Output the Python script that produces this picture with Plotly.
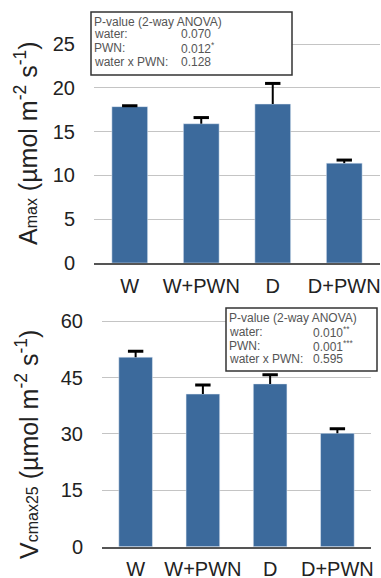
import plotly.graph_objects as go

W, H = 381, 578

categories = ["W", "W+PWN", "D", "D+PWN"]
amax_values = [17.85, 15.9, 18.15, 11.4]
amax_errors = [0.1, 0.7, 2.35, 0.35]
vcmax_values = [50.4, 40.6, 43.3, 30.15]
vcmax_errors = [1.6, 2.4, 2.4, 1.2]
amax_ticks = [0, 5, 10, 15, 20, 25]
vcmax_ticks = [0, 15, 30, 45, 60]

amax_stats_labels = ["water:", "PWN:", "water x PWN:"]
amax_stats_values = ["0.070", "0.012<sup>*</sup>", "0.128"]
vcmax_stats_labels = ["water:", "PWN:", "water x PWN:"]
vcmax_stats_values = ["0.010<sup>**</sup>", "0.001<sup>***</sup>", "0.595"]

BAR = "#3c6a9c"
FONT = "Liberation Sans, Arial, sans-serif"


def px(x):
    return x / W


def py(y):
    return 1 - y / H


fig = go.Figure()


def add_bars(vals, errs, xa, ya):
    fig.add_trace(go.Bar(
        x=categories, y=vals, marker_color=BAR, width=0.5,
        error_y=dict(type="data", symmetric=False, array=errs,
                     arrayminus=[0] * len(errs), color="black",
                     thickness=2, width=0),
        xaxis=xa, yaxis=ya, hoverinfo="skip"))
    tops = [v + e for v, e in zip(vals, errs)]
    fig.add_trace(go.Scatter(
        x=categories, y=tops, mode="markers",
        marker=dict(symbol="line-ew", size=11,
                    line=dict(color="black", width=3)),
        xaxis=xa, yaxis=ya, hoverinfo="skip"))


add_bars(amax_values, amax_errors, "x", "y")
add_bars(vcmax_values, vcmax_errors, "x2", "y2")

t_zero, t_ppu, t_max = 263.0, 8.76, 27.5
b_zero, b_ppu, b_max = 546.7, 3.76, 63.0

axis_common = dict(showgrid=False, zeroline=False, showline=True,
                   linecolor="#555", linewidth=1.5, ticks="",
                   tickfont=dict(size=20, color="#222", family=FONT),
                   ticklabelstandoff=4, fixedrange=True, automargin=False)
yaxis_common = dict(showgrid=True, gridcolor="#c4c4c4", gridwidth=1.2,
                    zeroline=False, showline=False, ticks="",
                    tickfont=dict(size=20, color="#222", family=FONT),
                    ticklabelstandoff=18, fixedrange=True, automargin=False)

fig.update_layout(
    width=W, height=H, margin=dict(l=0, r=0, t=0, b=0),
    paper_bgcolor="white", plot_bgcolor="white", showlegend=False,
    bargap=0.5,
    xaxis=dict(domain=[px(94), px(380)], anchor="y", **axis_common),
    yaxis=dict(domain=[py(t_zero), py(t_zero - t_max * t_ppu)],
               range=[0, t_max], tickvals=amax_ticks, anchor="x",
               **yaxis_common),
    xaxis2=dict(domain=[px(102), px(371)], anchor="y2", **axis_common),
    yaxis2=dict(domain=[py(b_zero), py(b_zero - b_max * b_ppu)],
                range=[0, b_max], tickvals=vcmax_ticks, anchor="x2",
                **yaxis_common),
)

annotations = []
shapes = []

annotations.append(dict(
    text="A<span style='font-size:16px'>max</span> (µmol m<sup>-2</sup> s<sup>-1</sup>)",
    x=px(26), y=py(143), xref="paper", yref="paper", textangle=-90,
    showarrow=False, font=dict(size=25, color="#222", family=FONT),
    xanchor="center", yanchor="middle"))
annotations.append(dict(
    text="V<span style='font-size:16px'>cmax25</span> (µmol m<sup>-2</sup> s<sup>-1</sup>)",
    x=px(27), y=py(445), xref="paper", yref="paper", textangle=-90,
    showarrow=False, font=dict(size=25, color="#222", family=FONT),
    xanchor="center", yanchor="middle"))


def stats_box(x0, y0, x1, y1, lx, vx, ys, labels, values):
    shapes.append(dict(type="rect", xref="paper", yref="paper",
                       x0=px(x0), x1=px(x1), y0=py(y0), y1=py(y1),
                       line=dict(color="#333", width=1.5),
                       fillcolor="white", layer="above"))
    f = dict(size=12, color="#555", family=FONT)
    annotations.append(dict(text="P-value (2-way ANOVA)", x=px(lx), y=py(ys[0]),
                            xref="paper", yref="paper", showarrow=False,
                            xanchor="left", yanchor="middle", font=f))
    for i, (lab, val) in enumerate(zip(labels, values)):
        annotations.append(dict(text=lab, x=px(lx), y=py(ys[i + 1]),
                                xref="paper", yref="paper", showarrow=False,
                                xanchor="left", yanchor="middle", font=f))
        annotations.append(dict(text=val, x=px(vx), y=py(ys[i + 1]),
                                xref="paper", yref="paper", showarrow=False,
                                xanchor="left", yanchor="middle", font=f))


stats_box(91, 12, 292, 75, 92, 179, [21.7, 34.5, 48, 61.7],
          amax_stats_labels, amax_stats_values)
stats_box(226, 308, 377, 371, 227, 311, [318.5, 332, 345.5, 359],
          vcmax_stats_labels, vcmax_stats_values)

fig.update_layout(annotations=annotations, shapes=shapes)

fig.write_html("out.html")
